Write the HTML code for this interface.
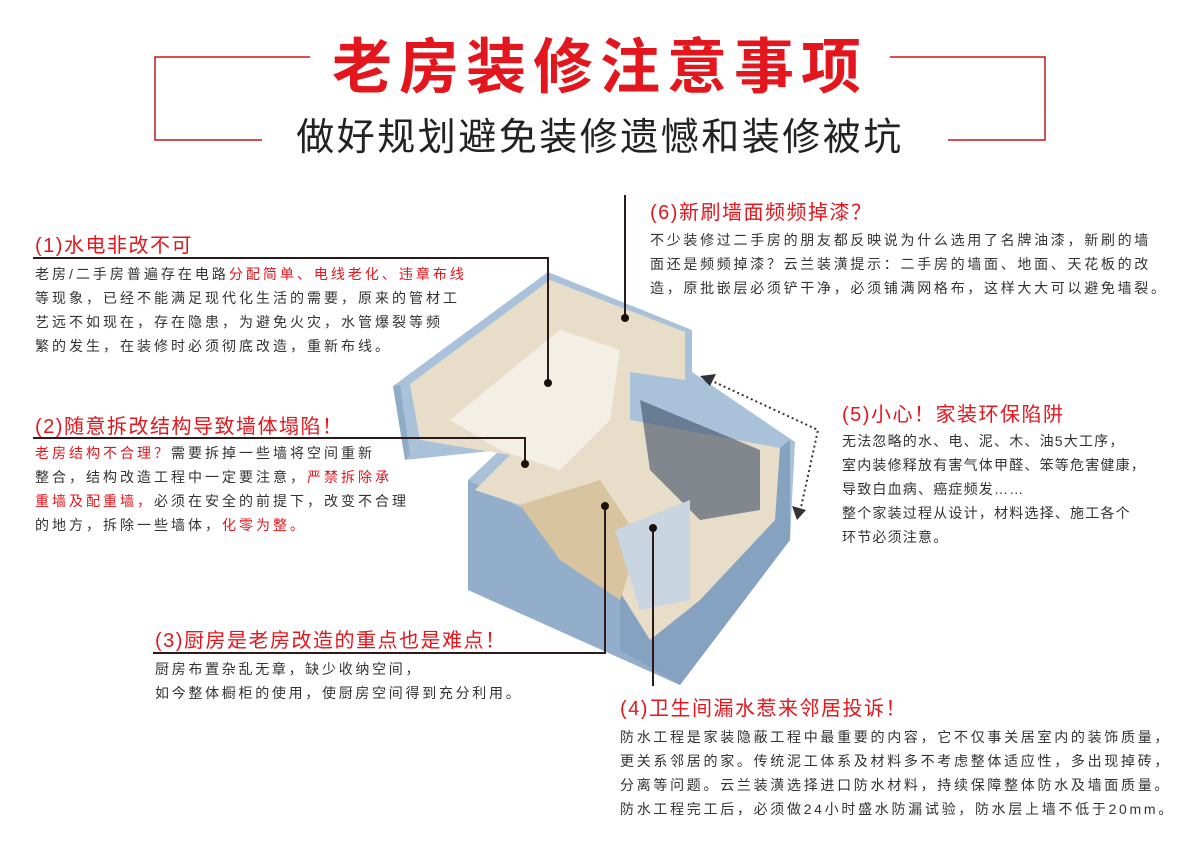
<!DOCTYPE html>
<html><head><meta charset="utf-8"><style>
body{margin:0;background:#fff;}
#c{position:relative;width:1200px;height:865px;overflow:hidden;font-family:"Liberation Sans","Noto Sans CJK SC",sans-serif;color:#333;}
.t{position:absolute;white-space:nowrap;}
.h{color:#e4161d;font-size:20px;letter-spacing:1.5px;}
.b{font-size:14px;line-height:24px;color:#333;letter-spacing:2.7px;}
.r{color:#e4161d;}
</style></head><body><div id="c">
<svg width="1200" height="865" style="position:absolute;left:0;top:0">
<g fill="none" stroke="#c9151b" stroke-width="1.5">
<polyline points="310,57 155,57 155,140 262,140"/>
<polyline points="890,57 1045,57 1045,140 948,140"/>
</g>
<polygon points="393,386 548,272 692,330 692,372 795,442 790,540 680,685 468,590 468,480 500,450 405,460" fill="#a9c2da"/>
<polygon points="405,460 393,386 400,385 410,455" fill="#8fabc6"/>
<polygon points="468,480 620,560 620,650 680,685 468,590" fill="#92aecb"/>
<polygon points="620,560 690,520 790,440 790,540 680,685 620,650" fill="#85a2c0"/>
<polygon points="410,384 550,280 685,332 685,380 630,372 630,420 780,448 775,520 700,600 650,640 600,560 520,505 475,490 510,455 420,440" fill="#e8ddc8"/>
<polygon points="450,420 560,330 620,350 610,420 560,470 500,450" fill="#f4efe4"/>
<polygon points="520,505 600,480 640,540 620,600 560,560" fill="#d8c49e"/>
<polygon points="640,400 760,450 760,510 700,520 650,470" fill="#3e4c66" opacity=".6"/>
<polygon points="615,530 690,500 690,600 640,610" fill="#c9d5e0"/>
<g fill="none" stroke="#2a1a1a" stroke-width="2">
<polyline points="33,258 548,258 548,383"/>
<polyline points="33,438 525,438 525,462"/>
<polyline points="153,653 605,653 605,506"/>
<line x1="653" y1="528" x2="653" y2="686"/>
<line x1="625" y1="195" x2="625" y2="316"/>
</g>
<g fill="#1a1010"><circle cx="548" cy="383" r="4"/><circle cx="525" cy="464" r="4"/><circle cx="605" cy="506" r="4"/><circle cx="653" cy="528" r="4"/><circle cx="625" cy="318" r="4"/></g>
<polyline points="710,380 818,430 800,512" fill="none" stroke="#333" stroke-width="2" stroke-dasharray="2,3"/>
<polygon points="700,376 716,374 710,386" fill="#333"/>
<polygon points="797,520 792,506 806,510" fill="#333"/>
</svg>
<div class="t" style="left:0;width:1200px;text-align:center;top:30px;font-size:60px;font-weight:bold;color:#e4161d;letter-spacing:7px;line-height:76px">老房装修注意事项</div>
<div class="t" style="left:0;width:1200px;text-align:center;top:113px;font-size:38px;color:#222;letter-spacing:2.5px;line-height:50px">做好规划避免装修遗憾和装修被坑</div>

<div class="t h" style="left:35px;top:229px">(1)水电非改不可</div>
<div class="t b" style="left:35px;top:262px;letter-spacing:3px">老房/二手房普遍存在电路<span class="r">分配简单、电线老化、违章布线</span><br>等现象，已经不能满足现代化生活的需要，原来的管材工<br>艺远不如现在，存在隐患，为避免火灾，水管爆裂等频<br>繁的发生，在装修时必须彻底改造，重新布线。</div>

<div class="t h" style="left:35px;top:410px">(2)随意拆改结构导致墙体塌陷！</div>
<div class="t b" style="left:35px;top:441px;letter-spacing:3px"><span class="r">老房结构不合理？</span>需要拆掉一些墙将空间重新<br>整合，结构改造工程中一定要注意，<span class="r">严禁拆除承</span><br><span class="r">重墙及配重墙，</span>必须在安全的前提下，改变不合理<br>的地方，拆除一些墙体，<span class="r">化零为整。</span></div>

<div class="t h" style="left:155px;top:624px">(3)厨房是老房改造的重点也是难点！</div>
<div class="t b" style="left:155px;top:657px">厨房布置杂乱无章，缺少收纳空间，<br>如今整体橱柜的使用，使厨房空间得到充分利用。</div>

<div class="t h" style="left:620px;top:692px">(4)卫生间漏水惹来邻居投诉！</div>
<div class="t b" style="left:620px;top:725px">防水工程是家装隐蔽工程中最重要的内容，它不仅事关居室内的装饰质量，<br>更关系邻居的家。传统泥工体系及材料多不考虑整体适应性，多出现掉砖，<br>分离等问题。云兰装潢选择进口防水材料，持续保障整体防水及墙面质量。<br>防水工程完工后，必须做24小时盛水防漏试验，防水层上墙不低于20mm。</div>

<div class="t h" style="left:842px;top:398px">(5)小心！家装环保陷阱</div>
<div class="t b" style="left:842px;top:429px;letter-spacing:1.2px">无法忽略的水、电、泥、木、油5大工序，<br>室内装修释放有害气体甲醛、笨等危害健康，<br>导致白血病、癌症频发……<br>整个家装过程从设计，材料选择、施工各个<br>环节必须注意。</div>

<div class="t h" style="left:650px;top:196px">(6)新刷墙面频频掉漆？</div>
<div class="t b" style="left:650px;top:228px">不少装修过二手房的朋友都反映说为什么选用了名牌油漆，新刷的墙<br>面还是频频掉漆？云兰装潢提示：二手房的墙面、地面、天花板的改<br>造，原批嵌层必须铲干净，必须铺满网格布，这样大大可以避免墙裂。</div>
</div></body></html>
